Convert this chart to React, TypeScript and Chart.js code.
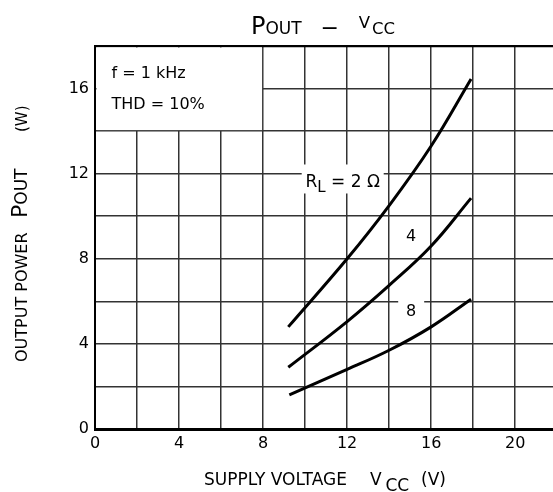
import React, { useEffect, useRef } from 'react';
import { Chart, registerables } from 'chart.js';

Chart.register(...registerables);

// ---- data ----
const vcc2 = [9.2, 12, 14, 16, 17.9];
const pout2 = [4.8, 8.0, 10.5, 13.3, 16.45];
const vcc4 = [9.2, 12, 14, 16, 17.9];
const pout4 = [2.9, 5.05, 6.75, 8.6, 10.85];
const vcc8 = [9.25, 12, 14, 16, 17.9];
const pout8 = [1.6, 2.8, 3.7, 4.8, 6.1];

const xGridValues = [0, 2, 4, 6, 8, 10, 12, 14, 16, 18, 20];
const xTickLabels = ['0', '4', '8', '12', '16', '20'];
const yGridValues = [0, 2, 4, 6, 8, 10, 12, 14, 16, 18];
const yTickLabels = ['0', '4', '8', '12', '16'];

const xMin = 0;
const xMax = 21.8;
const yMin = 0;
const yMax = 18;

// condition box (data coords)
const noteBoxX = [0, 8];
const noteBoxY = [14, 18];
const noteLines = ['f = 1 kHz', 'THD = 10%'];

// curve labels: anchor centres in data coords
const curveLabelNames = ['RL = 2 Ω', '4', '8'];
const curveLabelX = [11.79, 15.05, 15.05];
const curveLabelY = [11.75, 9.1, 5.6];

const FONT = '"DejaVu Sans", sans-serif';
const GRID = '#333';

function f(size: number) {
  return `${size}px ${FONT}`;
}

const decorPlugin = {
  id: 'decor',
  beforeDatasetsDraw(chart: any) {
    const { ctx } = chart;
    const xs = chart.scales.x;
    const ys = chart.scales.y;
    const x0 = xs.getPixelForValue(noteBoxX[0]);
    const x1 = xs.getPixelForValue(noteBoxX[1]);
    const yTop = ys.getPixelForValue(noteBoxY[1]);
    const yBot = ys.getPixelForValue(noteBoxY[0]);
    ctx.save();
    ctx.fillStyle = '#fff';
    ctx.fillRect(x0 + 1.5, yTop + 1.5, x1 - x0 - 2.5, yBot - yTop - 2.5);
    ctx.restore();
  },
  afterDatasetsDraw(chart: any) {
    const { ctx } = chart;
    const xs = chart.scales.x;
    const ys = chart.scales.y;
    ctx.save();
    ctx.fillStyle = '#000';
    ctx.textBaseline = 'alphabetic';
    ctx.textAlign = 'left';
    curveLabelNames.forEach((name, i) => {
      const cx = xs.getPixelForValue(curveLabelX[i]);
      const cy = ys.getPixelForValue(curveLabelY[i]);
      if (name.startsWith('RL')) {
        const runs = [
          { t: 'R', s: 17, dy: 0 },
          { t: 'L', s: 15, dy: 5 },
          { t: name.slice(2), s: 17, dy: 0 },
        ];
        let w = 0;
        runs.forEach((r) => {
          ctx.font = f(r.s);
          w += ctx.measureText(r.t).width;
        });
        ctx.fillStyle = '#fff';
        ctx.fillRect(cx - 41, cy - 14.5, 82, 29);
        ctx.fillStyle = '#000';
        let x = cx - w / 2;
        runs.forEach((r) => {
          ctx.font = f(r.s);
          ctx.fillText(r.t, x, cy + 8.5 + r.dy);
          x += ctx.measureText(r.t).width;
        });
      } else {
        ctx.fillStyle = '#fff';
        ctx.fillRect(cx - 13, cy - 14, 26, 28);
        ctx.fillStyle = '#000';
        ctx.font = f(16);
        ctx.textAlign = 'center';
        ctx.fillText(name, cx, cy + 5.8);
        ctx.textAlign = 'left';
      }
    });
    ctx.restore();
  },
  afterDraw(chart: any) {
    const { ctx } = chart;
    const xs = chart.scales.x;
    const ys = chart.scales.y;
    const left = xs.getPixelForValue(noteBoxX[0]);
    const top = ys.getPixelForValue(noteBoxY[1]);
    ctx.save();
    ctx.fillStyle = '#000';
    ctx.textBaseline = 'alphabetic';
    ctx.textAlign = 'left';

    // condition text
    ctx.font = f(16);
    ctx.fillText(noteLines[0], left + 16.5, top + 32.3);
    ctx.fillText(noteLines[1], left + 16.5, top + 63.3);

    // main title  P OUT – V CC
    ctx.font = f(24);
    ctx.fillText('P', 251, 33.5);
    const x = 251 + ctx.measureText('P').width;
    ctx.font = f(17);
    ctx.fillText('OUT', x, 33.5);
    ctx.font = f(22);
    ctx.textAlign = 'center';
    ctx.fillText('\u2212', 329.7, 35);
    ctx.textAlign = 'left';
    ctx.font = f(16.5);
    ctx.fillText('V', 358.7, 28.3);
    ctx.fillText('CC', 372, 34);

    // x-axis title
    ctx.font = f(17);
    ctx.fillText('SUPPLY VOLTAGE', 204, 485);
    ctx.fillText('V', 370, 485);
    ctx.fillText('CC', 385.5, 490.5);
    ctx.fillText('(V)', 421, 485);

    // y-axis title (rotated)
    ctx.translate(26.5, 362);
    ctx.rotate(-Math.PI / 2);
    ctx.font = f(16);
    ctx.fillText('OUTPUT POWER', 0, 0);
    ctx.font = f(22);
    ctx.fillText('P', 144, 0);
    const u = 144 + ctx.measureText('P').width;
    ctx.font = f(17);
    ctx.fillText('OUT', u, 0);
    ctx.font = f(15);
    ctx.fillText('(W)', 230, 0);
    ctx.restore();
  },
};

function series(xs: number[], ys: number[]) {
  return xs.map((x, i) => ({ x, y: ys[i] }));
}

export default function App() {
  const ref = useRef<HTMLCanvasElement | null>(null);

  useEffect(() => {
    if (!ref.current) return;
    Chart.defaults.font.family = FONT;
    const lineStyle = {
      borderColor: '#000',
      borderWidth: 3,
      pointRadius: 0,
      tension: 0.4,
      borderCapStyle: 'butt' as const,
      fill: false,
    };
    const chart = new Chart(ref.current, {
      type: 'line',
      data: {
        datasets: [
          { label: 'RL = 2', data: series(vcc2, pout2), ...lineStyle },
          { label: 'RL = 4', data: series(vcc4, pout4), ...lineStyle },
          { label: 'RL = 8', data: series(vcc8, pout8), ...lineStyle },
        ],
      },
      options: {
        animation: false,
        responsive: false,
        maintainAspectRatio: false,
        devicePixelRatio: 1,
        layout: { padding: { top: 46, left: 0, right: 0, bottom: 0 } },
        plugins: {
          legend: { display: false },
          tooltip: { enabled: false },
          title: { display: false },
        },
        scales: {
          x: {
            type: 'linear',
            min: xMin,
            max: xMax,
            afterBuildTicks: (s: any) => {
              s.ticks = xGridValues.map((v) => ({ value: v }));
            },
            afterFit: (s: any) => {
              s.height = 63;
            },
            grid: { color: GRID, lineWidth: 1.5, drawTicks: false, tickLength: 0 },
            border: { display: true, color: '#000', width: 3 },
            ticks: {
              autoSkip: false,
              maxRotation: 0,
              padding: 5,
              color: '#000',
              font: { size: 16, family: FONT },
              callback: (v: any) => (xTickLabels.includes(String(v)) ? String(v) : ''),
            },
          },
          y: {
            type: 'linear',
            min: yMin,
            max: yMax,
            afterBuildTicks: (s: any) => {
              s.ticks = yGridValues.map((v) => ({ value: v }));
            },
            afterFit: (s: any) => {
              s.width = 95;
            },
            grid: {
              color: (c: any) => (c.tick && c.tick.value === yMax ? '#000' : GRID),
              lineWidth: (c: any) => (c.tick && c.tick.value === yMax ? 2.2 : 1.5),
              drawTicks: false,
              tickLength: 0,
            },
            border: { display: true, color: '#000', width: 2 },
            ticks: {
              autoSkip: false,
              padding: 6,
              color: '#000',
              font: { size: 16, family: FONT },
              callback: (v: any) => (yTickLabels.includes(String(v)) ? String(v) : ''),
            },
          },
        },
      },
      plugins: [decorPlugin],
    });
    return () => chart.destroy();
  }, []);

  return (
    <div style={{ position: 'absolute', left: 0, top: 0, width: 553, height: 492, background: '#fff' }}>
      <canvas ref={ref} width={553} height={492} style={{ display: 'block', width: 553, height: 492 }} />
    </div>
  );
}
